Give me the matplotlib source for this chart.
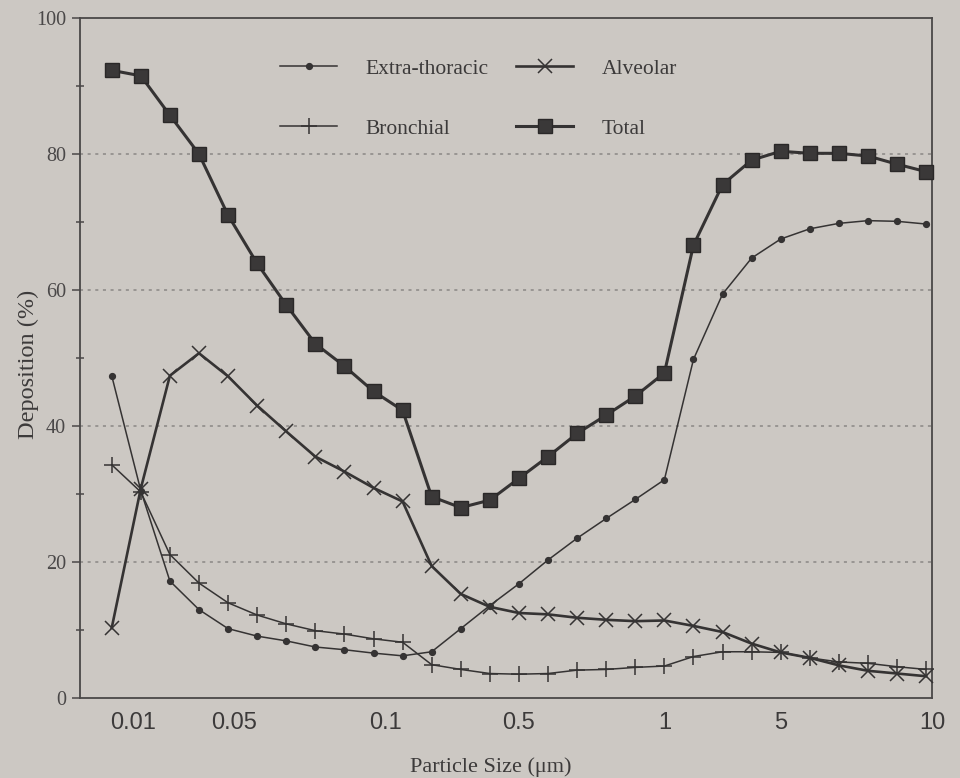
import numpy as np
import matplotlib
matplotlib.use("Agg")
import matplotlib.pyplot as plt
from matplotlib.ticker import MultipleLocator

# deposition (%) at each sampled particle size, in order of increasing size
extra_thoracic = [47.4, 30.5, 17.2, 13.0, 10.2, 9.1, 8.4, 7.5, 7.1, 6.6,
                  6.2, 6.8, 10.2, 13.6, 16.8, 20.3, 23.5, 26.4, 29.2, 32.1,
                  49.8, 59.4, 64.7, 67.5, 69.0, 69.8, 70.2, 70.1, 69.7]
bronchial = [34.3, 30.3, 21.1, 16.9, 14.0, 12.2, 10.9, 9.9, 9.4, 8.7,
             8.2, 4.9, 4.2, 3.6, 3.5, 3.6, 4.1, 4.2, 4.5, 4.7,
             6.1, 6.8, 6.8, 6.7, 5.9, 5.3, 5.1, 4.6, 4.2]
alveolar = [10.3, 30.8, 47.4, 50.7, 47.3, 43.0, 39.2, 35.5, 33.3, 30.9,
            28.9, 19.4, 15.3, 13.4, 12.5, 12.3, 11.8, 11.5, 11.3, 11.4,
            10.6, 9.7, 8.0, 6.7, 5.9, 4.8, 4.0, 3.6, 3.2]
total = [92.3, 91.5, 85.7, 80.0, 71.0, 63.9, 57.8, 52.1, 48.8, 45.1,
         42.3, 29.6, 28.0, 29.1, 32.3, 35.5, 38.9, 41.6, 44.4, 47.8,
         66.6, 75.5, 79.1, 80.4, 80.1, 80.1, 79.7, 78.5, 77.4]

size_labels = ["0.01", "0.05", "0.1", "0.5", "1", "5", "10"]
size_label_pos = [0.75, 4.2, 9.4, 14.0, 19.0, 23.0, 28.2]

paper = "#ccc8c3"
ink = "#353333"
text_col = "#3c3a3a"
serif = ["Liberation Serif", "DejaVu Serif"]

fig = plt.figure(figsize=(9.6, 7.78), dpi=100, facecolor=paper)
ax = fig.add_axes([80 / 960, 1 - 698 / 778, 852 / 960, 680 / 778])
ax.set_facecolor(paper)

x = np.arange(len(total))
ax.plot(x, extra_thoracic, color=ink, lw=1.1, marker="o", ms=4.2,
        label="Extra-thoracic", clip_on=False, zorder=3)
ax.plot(x, bronchial, color=ink, lw=1.1, marker="+", ms=11, mew=1.1,
        label="Bronchial", clip_on=False, zorder=3)
ax.plot(x, alveolar, color=ink, lw=1.9, marker="x", ms=10, mew=1.1,
        label="Alveolar", clip_on=False, zorder=4)
ax.plot(x, total, color=ink, lw=2.2, marker="s", ms=10, mfc="#3a3838",
        mec="#2a2828", label="Total", clip_on=False, zorder=5)

ax.set_xlim(-1.09, 28)
ax.set_ylim(0, 100)

for sp in ax.spines.values():
    sp.set_color("#4a4848")
    sp.set_linewidth(1.3)

# dotted reference lines
for yv in [20, 40, 60, 80]:
    ax.axhline(yv, color="#8a8785", lw=1.1, ls=(0, (2, 3)), zorder=1)

ax.set_xticks(size_label_pos)
ax.set_xticklabels(size_labels, family=["Liberation Sans", "DejaVu Sans"],
                   fontsize=17, color=text_col)
ax.tick_params(axis="x", length=0, pad=10)

ax.yaxis.set_major_locator(MultipleLocator(20))
ax.yaxis.set_minor_locator(MultipleLocator(10))
ax.tick_params(axis="y", which="major", length=6, width=1.1,
               color="#4a4848", direction="out", pad=4)
ax.tick_params(axis="y", which="minor", length=6, width=1.1,
               color="#4a4848", direction="inout")
for lab in ax.get_yticklabels():
    lab.set_family(serif)
    lab.set_fontsize(14.5)
    lab.set_color("#4a4848")

ax.set_ylabel("Deposition (%)", family=serif, fontsize=17.5, color=text_col,
              va="center")
ax.yaxis.set_label_coords(-0.061, 0.49)
ax.set_xlabel("Particle Size (\u03bcm)", family=serif, fontsize=16,
              color=text_col, va="center")
ax.xaxis.set_label_coords(0.482, -0.102)

handles, labels = ax.get_legend_handles_labels()
leg = ax.legend(handles, labels, ncol=2, loc="upper left",
                bbox_to_anchor=(0.235, 0.940), frameon=False,
                prop={"family": serif, "size": 15.5}, handlelength=2.65,
                handletextpad=1.3, columnspacing=1.3, labelspacing=1.85,
                borderpad=0, borderaxespad=0)
for t in leg.get_texts():
    t.set_color(text_col)

fig.savefig("out.png", dpi=100, facecolor=paper)
